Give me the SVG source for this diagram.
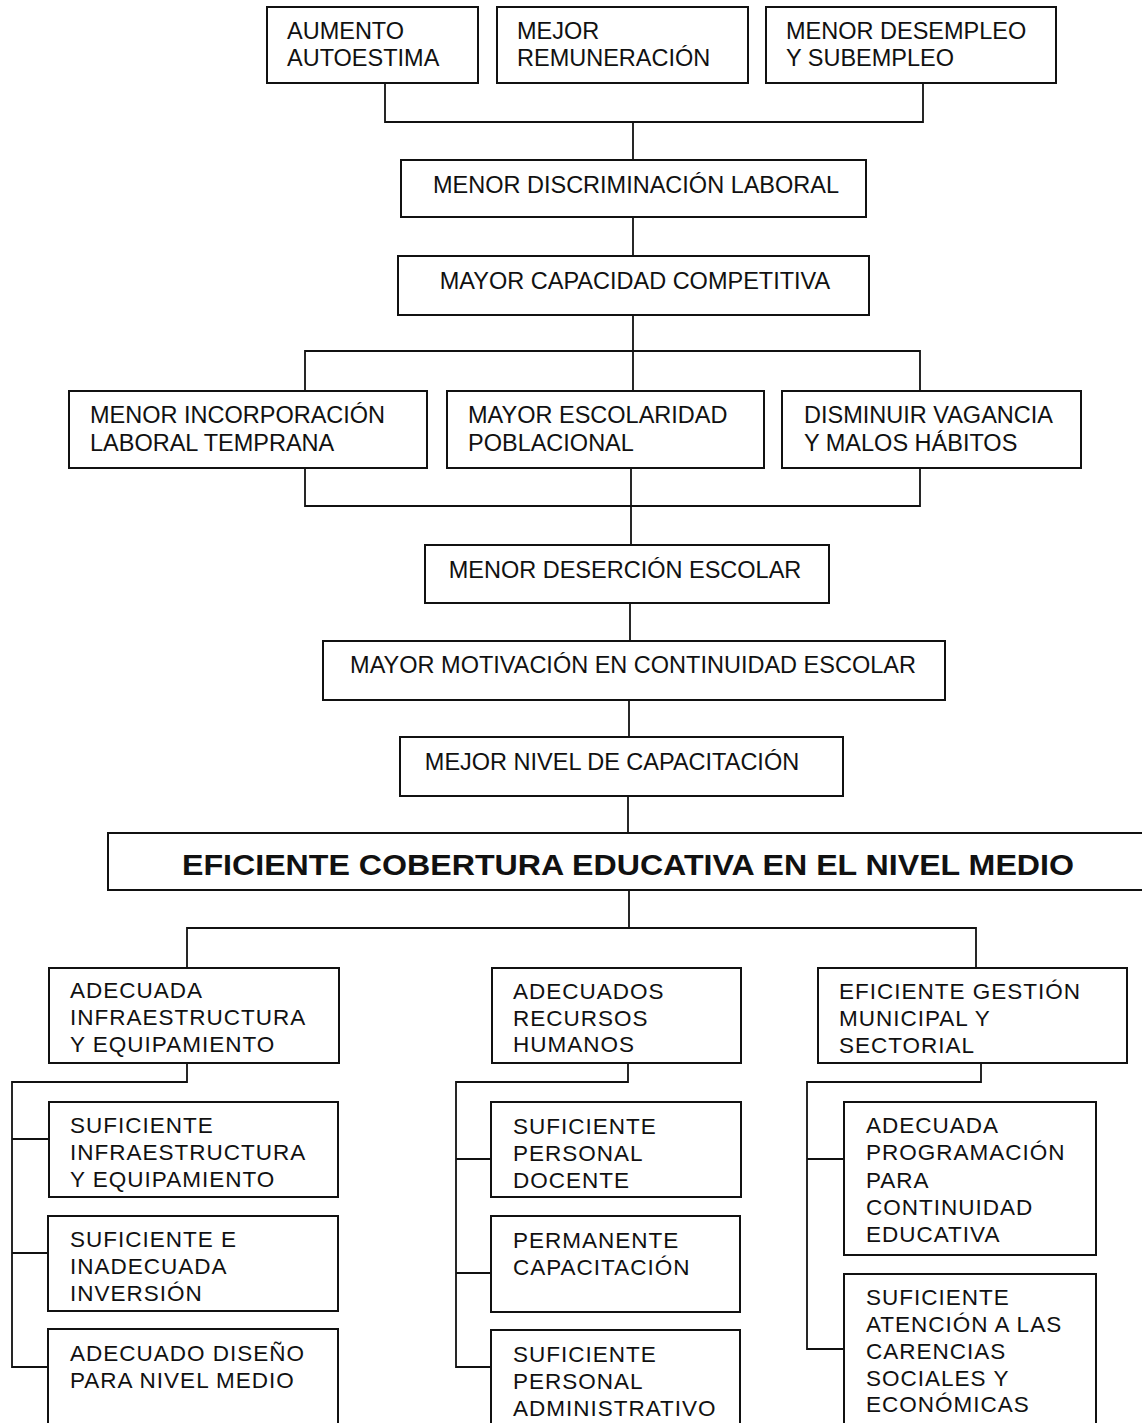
<svg xmlns="http://www.w3.org/2000/svg" width="1142" height="1423" viewBox="0 0 1142 1423">
<style>
.box{fill:#fff;stroke:#111;stroke-width:2}
.t{font-family:"Liberation Sans",Arial,Helvetica,sans-serif;font-size:23.5px;fill:#111}
.c{text-anchor:middle}
.s{font-size:22.5px;letter-spacing:1px}
.b{font-weight:bold;font-size:29px}
.ln{fill:none;stroke:#111;stroke-width:1.8}
</style>
<rect width="1142" height="1423" fill="#fff"/>
<g id="connectors" class="ln">
<path d="M385 83V122H923V83M633 122V160"/>
<path d="M633 217V256"/>
<path d="M633 315V391M305 391V351H920V391"/>
<path d="M305 468V506H920V468M631 468V545"/>
<path d="M630 603V641"/>
<path d="M629 700V737"/>
<path d="M628 796V833"/>
<path d="M629 890V928M187 968V928H976V968"/>
<path d="M187 1063V1082H12V1367H50M12 1139H50M12 1253H50"/>
<path d="M628 1063V1082H456V1367H492M456 1159H492M456 1273H492"/>
<path d="M981 1063V1082H807V1349H845M807 1159H845"/>
</g>
<g id="n1"><rect class="box" x="267" y="7" width="211" height="76"/><text class="t" x="287" y="39">AUMENTO</text><text class="t" x="287" y="66">AUTOESTIMA</text></g>
<g id="n2"><rect class="box" x="497" y="7" width="251" height="76"/><text class="t" x="517" y="39">MEJOR</text><text class="t" x="517" y="66">REMUNERACIÓN</text></g>
<g id="n3"><rect class="box" x="766" y="7" width="290" height="76"/><text class="t" x="786" y="39">MENOR DESEMPLEO</text><text class="t" x="786" y="66">Y SUBEMPLEO</text></g>
<g id="n4"><rect class="box" x="401" y="160" width="465" height="57"/><text class="t c" x="636" y="193">MENOR DISCRIMINACIÓN LABORAL</text></g>
<g id="n5"><rect class="box" x="398" y="256" width="471" height="59"/><text class="t c" x="635" y="289">MAYOR CAPACIDAD COMPETITIVA</text></g>
<g id="n6"><rect class="box" x="69" y="391" width="358" height="77"/><text class="t" x="90" y="423">MENOR INCORPORACIÓN</text><text class="t" x="90" y="451">LABORAL TEMPRANA</text></g>
<g id="n7"><rect class="box" x="447" y="391" width="317" height="77"/><text class="t" x="468" y="423">MAYOR ESCOLARIDAD</text><text class="t" x="468" y="451">POBLACIONAL</text></g>
<g id="n8"><rect class="box" x="782" y="391" width="299" height="77"/><text class="t" x="804" y="423">DISMINUIR VAGANCIA</text><text class="t" x="804" y="451">Y MALOS HÁBITOS</text></g>
<g id="n9"><rect class="box" x="425" y="545" width="404" height="58"/><text class="t c" x="625" y="578">MENOR DESERCIÓN ESCOLAR</text></g>
<g id="n10"><rect class="box" x="323" y="641" width="622" height="59"/><text class="t c" x="633" y="673">MAYOR MOTIVACIÓN EN CONTINUIDAD ESCOLAR</text></g>
<g id="n11"><rect class="box" x="400" y="737" width="443" height="59"/><text class="t c" x="612" y="770">MEJOR NIVEL DE CAPACITACIÓN</text></g>
<g id="n12"><rect class="box" x="108" y="833" width="1050" height="57"/><text class="t b" x="182" y="875" textLength="892" lengthAdjust="spacingAndGlyphs">EFICIENTE COBERTURA EDUCATIVA EN EL NIVEL MEDIO</text></g>
<g id="n13"><rect class="box" x="49" y="968" width="290" height="95"/><text class="t s" x="70" y="998">ADECUADA</text><text class="t s" x="70" y="1025">INFRAESTRUCTURA</text><text class="t s" x="70" y="1052">Y EQUIPAMIENTO</text></g>
<g id="n14"><rect class="box" x="492" y="968" width="249" height="95"/><text class="t s" x="513" y="999">ADECUADOS</text><text class="t s" x="513" y="1026">RECURSOS</text><text class="t s" x="513" y="1052">HUMANOS</text></g>
<g id="n15"><rect class="box" x="818" y="968" width="309" height="95"/><text class="t s" x="839" y="999">EFICIENTE GESTIÓN</text><text class="t s" x="839" y="1026">MUNICIPAL Y</text><text class="t s" x="839" y="1053">SECTORIAL</text></g>
<g id="n16"><rect class="box" x="49" y="1102" width="289" height="95"/><text class="t s" x="70" y="1133">SUFICIENTE</text><text class="t s" x="70" y="1160">INFRAESTRUCTURA</text><text class="t s" x="70" y="1187">Y EQUIPAMIENTO</text></g>
<g id="n17"><rect class="box" x="48" y="1216" width="290" height="95"/><text class="t s" x="70" y="1247">SUFICIENTE E</text><text class="t s" x="70" y="1274">INADECUADA</text><text class="t s" x="70" y="1301">INVERSIÓN</text></g>
<g id="n18"><rect class="box" x="48" y="1329" width="290" height="110"/><text class="t s" x="70" y="1361">ADECUADO DISEÑO</text><text class="t s" x="70" y="1388">PARA NIVEL MEDIO</text></g>
<g id="n19"><rect class="box" x="491" y="1102" width="250" height="95"/><text class="t s" x="513" y="1134">SUFICIENTE</text><text class="t s" x="513" y="1161">PERSONAL</text><text class="t s" x="513" y="1188">DOCENTE</text></g>
<g id="n20"><rect class="box" x="491" y="1216" width="249" height="96"/><text class="t s" x="513" y="1248">PERMANENTE</text><text class="t s" x="513" y="1275">CAPACITACIÓN</text></g>
<g id="n21"><rect class="box" x="491" y="1330" width="249" height="110"/><text class="t s" x="513" y="1362">SUFICIENTE</text><text class="t s" x="513" y="1389">PERSONAL</text><text class="t s" x="513" y="1416">ADMINISTRATIVO</text></g>
<g id="n22"><rect class="box" x="844" y="1102" width="252" height="153"/><text class="t s" x="866" y="1133">ADECUADA</text><text class="t s" x="866" y="1160">PROGRAMACIÓN</text><text class="t s" x="866" y="1188">PARA</text><text class="t s" x="866" y="1215">CONTINUIDAD</text><text class="t s" x="866" y="1242">EDUCATIVA</text></g>
<g id="n23"><rect class="box" x="844" y="1274" width="252" height="170"/><text class="t s" x="866" y="1305">SUFICIENTE</text><text class="t s" x="866" y="1332">ATENCIÓN A LAS</text><text class="t s" x="866" y="1359">CARENCIAS</text><text class="t s" x="866" y="1386">SOCIALES Y</text><text class="t s" x="866" y="1412">ECONÓMICAS</text></g>
</svg>
